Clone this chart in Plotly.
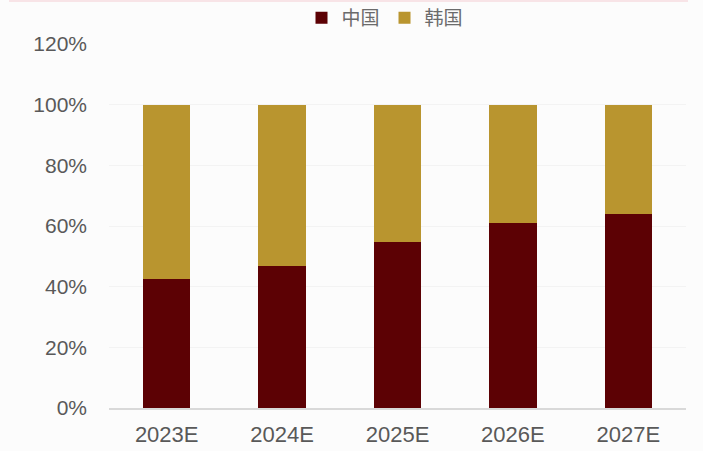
import plotly.graph_objects as go

# Market share by country, forecast years
years = ["2023E", "2024E", "2025E", "2026E", "2027E"]
china_share = [42.4, 46.8, 54.6, 60.9, 63.8]
korea_share = [round(100 - v, 1) for v in china_share]

y_ticks = [0, 20, 40, 60, 80, 100, 120]
y_tick_text = [f"{t}%" for t in y_ticks]

FONT = "Liberation Sans, Arial, Noto Sans CJK SC, sans-serif"

L, R, T, B = 109, 17, 44, 43
W, H = 703, 451
plot_w = W - L - R
plot_h = H - T - B

fig = go.Figure()
fig.add_trace(go.Bar(
    x=years, y=china_share, name="中国",
    marker=dict(color="#5C0104", line=dict(width=0)),
))
fig.add_trace(go.Bar(
    x=years, y=korea_share, name="韩国",
    marker=dict(color="#B9952F", line=dict(width=0)),
))

fig.update_layout(
    barmode="stack",
    bargap=0.59,
    width=W, height=H,
    margin=dict(l=L, r=R, t=T, b=B, autoexpand=False),
    paper_bgcolor="#fcfcfc",
    plot_bgcolor="#fcfcfc",
    font=dict(family=FONT, color="#595959"),
    showlegend=True,
    legend=dict(
        orientation="h",
        traceorder="normal",
        x=(385 - L) / plot_w, xanchor="center",
        y=(H - B - 18) / plot_h, yanchor="middle",
        font=dict(size=19, color="#6b6b6b", family="Noto Sans CJK SC, sans-serif"),
        itemwidth=30,
        bgcolor="rgba(0,0,0,0)",
    ),
    xaxis=dict(
        showline=True, linecolor="#d9d9d9", linewidth=1.5,
        ticks="", tickfont=dict(size=22, color="#595959"),
        showgrid=False,
        ticklabelstandoff=6,
    ),
    yaxis=dict(
        range=[0, 120],
        tickvals=y_ticks, ticktext=y_tick_text,
        tickfont=dict(size=21, color="#595959"),
        showgrid=True, gridcolor="#f3f3f3", gridwidth=1,
        zeroline=False, showline=False, ticks="",
        ticklabelstandoff=21,
    ),
)

# thin rule along the top edge of the panel
fig.add_shape(
    type="line", xref="paper", yref="paper",
    x0=-(L - 9) / plot_w, x1=(688 - L) / plot_w,
    y0=(H - B - 1) / plot_h, y1=(H - B - 1) / plot_h,
    line=dict(color="#f4ccd2", width=1.2),
)

fig.write_html("out.html")
